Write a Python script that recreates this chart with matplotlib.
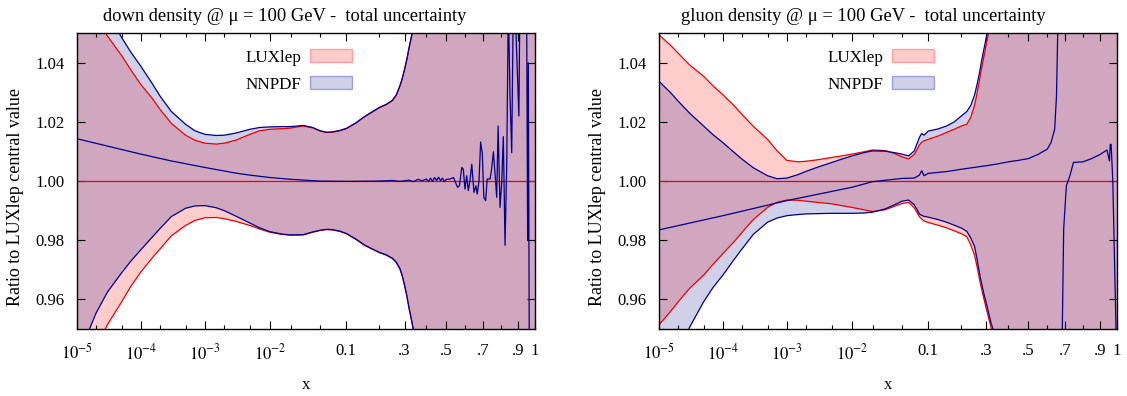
import numpy as np
import matplotlib.pyplot as plt
from matplotlib.patches import Patch
from matplotlib.ticker import FormatStrFormatter

plt.rcParams['font.family'] = ['Liberation Serif', 'DejaVu Serif']
plt.rcParams['mathtext.fontset'] = 'stix'

# ---------------- down density ----------------
down_x = [1e-5, 1.5e-5, 2e-5, 3e-5, 5e-5, 7e-5, 1e-4, 1.5e-4, 2e-4, 3e-4, 5e-4,
          7e-4, 1e-3, 1.5e-3, 2e-3, 3e-3, 5e-3, 7e-3, 1e-2, 1.5e-2, 2e-2, 3e-2,
          4e-2, 5e-2, 6e-2, 7e-2, 8.5e-2, 0.1, 0.125, 0.15, 0.175, 0.2, 0.225,
          0.25, 0.265, 0.28, 0.29, 0.3, 0.31, 0.32, 0.33, 0.34, 0.36, 0.4, 0.6,
          0.8, 1.0]
down_lux_hi = [1.070, 1.062, 1.056, 1.049, 1.0424, 1.0375, 1.0326, 1.0280, 1.0242,
               1.0195, 1.0155, 1.0138, 1.0128, 1.0125, 1.0128, 1.0138, 1.0158,
               1.0170, 1.0175, 1.0177, 1.0179, 1.0186, 1.0180, 1.0169, 1.0164,
               1.0165, 1.0170, 1.0177, 1.0196, 1.0217, 1.0233, 1.0248, 1.0258,
               1.0272, 1.0290, 1.0320, 1.0345, 1.0376, 1.0410, 1.0450, 1.0485,
               1.0520, 1.060, 1.080, 1.2, 1.2, 1.2]
down_lux_lo = [0.930, 0.938, 0.944, 0.9515, 0.9592, 0.9645, 0.9693, 0.9740, 0.9771,
               0.9815, 0.9850, 0.9867, 0.9876, 0.9877, 0.9873, 0.9864, 0.9850,
               0.9838, 0.9827, 0.9820, 0.9817, 0.9818, 0.9827, 0.9833, 0.9836,
               0.9835, 0.9830, 0.9822, 0.9803, 0.9783, 0.9770, 0.9758, 0.9750,
               0.9738, 0.9725, 0.9704, 0.9680, 0.9648, 0.9612, 0.9570, 0.9533,
               0.9495, 0.940, 0.920, 0.8, 0.8, 0.8]
down_nn_hi = [1.080, 1.072, 1.065, 1.057, 1.0485, 1.0435, 1.0388, 1.0330, 1.0287,
              1.0235, 1.0192, 1.0170, 1.0158, 1.0154, 1.0155, 1.0162, 1.0175,
              1.0181, 1.0183, 1.0184, 1.0184, 1.0188, 1.0181, 1.0170, 1.0165,
              1.0166, 1.0171, 1.0178, 1.0197, 1.0218, 1.0234, 1.0249, 1.0259,
              1.0273, 1.0291, 1.0321, 1.0346, 1.0377, 1.0411, 1.0451, 1.0486,
              1.0521, 1.060, 1.080, 1.2, 1.2, 1.2]
down_nn_lo = [0.940, 0.949, 0.9555, 0.9625, 0.9690, 0.9730, 0.9768, 0.9810, 0.9840,
              0.9880, 0.9908, 0.9916, 0.9917, 0.9910, 0.9900, 0.9882, 0.9858,
              0.9842, 0.9829, 0.9821, 0.9818, 0.9819, 0.9828, 0.9834, 0.9837,
              0.9836, 0.9831, 0.9823, 0.9804, 0.9784, 0.9771, 0.9759, 0.9751,
              0.9739, 0.9726, 0.9705, 0.9681, 0.9649, 0.9613, 0.9571, 0.9534,
              0.9496, 0.940, 0.920, 0.8, 0.8, 0.8]

down_c_x = [1e-5, 1e-4, 3e-4, 1e-3, 3e-3, 5e-3, 1e-2, 2e-2, 5e-2, 0.1, 0.2, 0.25,
            0.28, 0.3, 0.32, 0.34, 0.36, 0.38, 0.4, 0.41, 0.42, 0.43, 0.44, 0.45,
            0.46, 0.47, 0.48, 0.49, 0.5, 0.519, 0.537, 0.558, 0.568, 0.581, 0.589,
            0.598, 0.607, 0.616, 0.625, 0.635, 0.647, 0.658, 0.665, 0.675, 0.684,
            0.693, 0.702, 0.712, 0.721, 0.737, 0.746, 0.756, 0.767, 0.775, 0.783,
            0.794, 0.804, 0.813, 0.823, 0.833, 0.842, 0.852, 0.862, 0.871, 0.881,
            0.904, 0.91, 0.94, 0.95, 0.956, 0.96, 0.966, 0.98, 0.99]
down_nn_c = [1.0143, 1.0091, 1.0068, 1.0046, 1.0027, 1.0020, 1.0012, 1.0006, 1.0000,
             0.9999, 1.0000, 1.0002, 0.9999, 1.0001, 1.0003, 0.9998, 1.0006, 1.0001,
             1.0007, 0.9998, 1.0010, 0.9999, 1.0012, 1.0002, 1.0013, 1.0001, 1.0010,
             0.9998, 1.0006, 1.0007, 1.0012, 0.9979, 0.9984, 1.0046, 1.0040, 0.9973,
             1.0018, 0.9968, 1.0001, 1.0057, 0.9962, 0.9984, 0.9956, 1.0001, 1.0132,
             1.0096, 0.9945, 0.9934, 1.0007, 1.0007, 1.0040, 1.0099, 1.0012, 0.9945,
             1.0186, 0.9911, 0.9996, 1.0150, 0.9783, 1.0063, 1.0600, 1.0287, 1.0096,
             1.0600, 1.0600, 1.0220, 1.0600, 1.0600, 1.0600, 0.9799, 1.0399, 0.9400,
             0.9400, 0.9400]

# ---------------- gluon density ----------------
glu_x = [1e-5, 1.5e-5, 2e-5, 3e-5, 5e-5, 7e-5, 1e-4, 1.5e-4, 2e-4, 3e-4, 5e-4,
         7e-4, 1e-3, 1.5e-3, 2e-3, 3e-3, 5e-3, 7e-3, 1e-2, 1.5e-2, 2e-2, 3e-2,
         4e-2, 5e-2, 6e-2, 7e-2, 7.5e-2, 8e-2, 8.5e-2, 9e-2, 0.1, 0.125, 0.15,
         0.175, 0.2, 0.22, 0.235, 0.25, 0.26, 0.27, 0.28, 0.29, 0.3, 0.31, 0.32,
         0.35, 0.4, 0.6, 0.8, 1.0]
glu_lux_hi = [1.0494, 1.0460, 1.0432, 1.0393, 1.0354, 1.0322, 1.0292, 1.0255, 1.0225,
              1.0185, 1.0141, 1.0103, 1.0070, 1.0065, 1.0067, 1.0072, 1.0080, 1.0085,
              1.0091, 1.0099, 1.0105, 1.0103, 1.0093, 1.0082, 1.0075, 1.0090, 1.0105,
              1.0122, 1.0131, 1.0136, 1.0141, 1.0152, 1.0164, 1.0175, 1.0186, 1.0192,
              1.0215, 1.0255, 1.0295, 1.0340, 1.0385, 1.0425, 1.0466, 1.0505, 1.055,
              1.065, 1.080, 1.2, 1.2, 1.2]
glu_lux_lo = [0.9514, 0.9558, 0.9592, 0.9637, 0.9682, 0.9718, 0.9755, 0.9795, 0.9827,
              0.9870, 0.9911, 0.9928, 0.9936, 0.9935, 0.9932, 0.9928, 0.9923, 0.9917,
              0.9911, 0.9903, 0.9897, 0.9903, 0.9915, 0.9924, 0.9928, 0.9910, 0.9895,
              0.9880, 0.9872, 0.9865, 0.9860, 0.9851, 0.9842, 0.9832, 0.9822, 0.9812,
              0.9785, 0.9750, 0.9712, 0.9670, 0.9632, 0.9598, 0.9566, 0.9535, 0.9505,
              0.940, 0.920, 0.8, 0.8, 0.8]
glu_nn_hi = [1.0337, 1.0300, 1.0270, 1.0230, 1.0186, 1.0157, 1.0130, 1.0097, 1.0074,
             1.0045, 1.0018, 1.0008, 1.0010, 1.0022, 1.0033, 1.0047, 1.0063, 1.0074,
             1.0085, 1.0096, 1.0102, 1.0101, 1.0096, 1.0091, 1.0085, 1.0102, 1.0125,
             1.0147, 1.0161, 1.0155, 1.0169, 1.0176, 1.0186, 1.0200, 1.0220, 1.0235,
             1.0255, 1.0290, 1.0325, 1.0365, 1.0410, 1.0450, 1.0489, 1.0530, 1.058,
             1.070, 1.090, 1.2, 1.2, 1.2]
glu_nn_lo = [0.925, 0.934, 0.941, 0.9505, 0.9592, 0.9640, 0.9682, 0.9735, 0.9771,
             0.9820, 0.9861, 0.9875, 0.9883, 0.9887, 0.9889, 0.9890, 0.9891, 0.9891,
             0.9891, 0.9892, 0.9895, 0.9906, 0.9920, 0.9932, 0.9936, 0.9920, 0.9905,
             0.9889, 0.9884, 0.9881, 0.9878, 0.9870, 0.9861, 0.9851, 0.9841, 0.9830,
             0.9808, 0.9780, 0.9738, 0.9690, 0.9650, 0.9615, 0.9585, 0.9552, 0.9520,
             0.945, 0.930, 0.8, 0.8, 0.8]

glu_c_x = [1e-5, 1e-4, 1e-3, 1e-2, 2e-2, 5e-2, 7e-2, 8e-2, 8.5e-2, 9e-2, 0.1, 0.15,
           0.2, 0.3, 0.35, 0.4, 0.45, 0.5, 0.55, 0.6, 0.62, 0.64, 0.65, 0.66, 0.67,
           0.675, 0.68, 0.69, 0.705, 0.725, 0.745, 0.8, 0.85, 0.9, 0.94, 0.955,
           0.96, 0.965, 0.975, 0.998]
glu_nn_c = [0.9835, 0.9883, 0.9934, 0.9979, 0.9998, 1.0009, 1.0010, 1.0020, 1.0035,
            1.0018, 1.0026, 1.0032, 1.0040, 1.0052, 1.0058, 1.0065, 1.0070, 1.0076,
            1.0090, 1.0108, 1.0130, 1.0175, 1.0287, 1.0600, np.nan, 0.9000, 0.9400,
            0.9839, 0.9984, 1.0018, 1.0063, 1.0065, 1.0076, 1.0090, 1.0105, 1.0068,
            1.0124, 1.0124, 1.0000, 0.9400]

lux_ref_x = [1e-5, 1.0]
lux_ref = [1.0, 1.0]

x_major = [1e-5, 1e-4, 1e-3, 1e-2, 0.1, 0.3, 0.5, 0.7, 0.9, 1.0]
x_major_labels = [r'$10^{-5}$', r'$10^{-4}$', r'$10^{-3}$', r'$10^{-2}$',
                  '0.1', '.3', '.5', '.7', '.9', '1']
x_minor = [2e-5, 5e-5, 2e-4, 5e-4, 2e-3, 5e-3, 2e-2, 5e-2, 0.2, 0.4, 0.6, 0.8]
y_major = [0.96, 0.98, 1.00, 1.02, 1.04]

panels = [
    ('down density @ \u03bc = 100 GeV -  total uncertainty', down_x, down_lux_hi,
     down_lux_lo, down_nn_hi, down_nn_lo, down_c_x, down_nn_c),
    ('gluon density @ \u03bc = 100 GeV -  total uncertainty', glu_x, glu_lux_hi,
     glu_lux_lo, glu_nn_hi, glu_nn_lo, glu_c_x, glu_nn_c),
]

red = '#ee0000'
navy = '#00008b'
lux_fill = (1.0, 0.0, 0.0, 0.2)
nn_fill = (0.08, 0.08, 0.55, 0.2)


# x axis: ln(x) + 5x, log at small x, stretched at large x
def fwd(x):
    x = np.asarray(x, dtype=float)
    with np.errstate(divide='ignore', invalid='ignore'):
        return np.log(x) + 5.0 * x


_xs = np.logspace(-9, 0.3, 20000)
_us = fwd(_xs)


def inv(u):
    return np.interp(u, _us, _xs)


fig = plt.figure(figsize=(11.27, 3.96), dpi=100)
lefts = [0.0683, 0.5847]
title_x = [0.454, 0.447]
for left, tx, (title, x, lhi, llo, nhi, nlo, cx, cy) in zip(lefts, title_x, panels):
    ax = fig.add_axes([left, 0.169, 0.4064, 0.7475])
    ax.set_xscale('function', functions=(fwd, inv))

    ax.fill_between(x, llo, lhi, facecolor=lux_fill, edgecolor='none', lw=0)
    ax.fill_between(x, nlo, nhi, facecolor=nn_fill, edgecolor='none', lw=0)
    ax.plot(x, lhi, color=red, lw=0.9)
    ax.plot(x, llo, color=red, lw=0.9)
    ax.plot(x, nhi, color=navy, lw=0.9)
    ax.plot(x, nlo, color=navy, lw=0.9)
    ax.plot(lux_ref_x, lux_ref, color=red, lw=0.9)
    ax.plot(cx, cy, color=navy, lw=0.9)

    ax.set_xlim(1e-5, 1.0)
    ax.set_ylim(0.95, 1.05)
    ax.set_xticks(x_major, x_major_labels)
    ax.set_xticks(x_minor, minor=True)
    ax.set_yticks(y_major)
    ax.yaxis.set_major_formatter(FormatStrFormatter('%.2f'))
    ax.tick_params(which='both', direction='in', top=True, right=True,
                   labelsize=12, color='black')
    ax.tick_params(which='major', length=6, width=0.8)
    ax.tick_params(which='minor', length=3, width=0.8)
    ax.tick_params(axis='x', pad=10)
    ax.tick_params(axis='y', pad=9)
    for s in ax.spines.values():
        s.set_linewidth(1.0)

    ax.set_title(title, fontsize=13.3, pad=9, x=tx)
    ax.set_xlabel('x', fontsize=12, labelpad=10)
    ax.set_ylabel('Ratio to LUXlep central value', fontsize=13)
    ax.yaxis.set_label_coords(-0.116, 0.446)

    handles = [Patch(facecolor=lux_fill, edgecolor=(1, 0, 0, 0.3)),
               Patch(facecolor=nn_fill, edgecolor=(0.1, 0.1, 0.6, 0.35))]
    ax.legend(handles, ['LUXlep', 'NNPDF'], loc='upper right',
              bbox_to_anchor=(0.601, 0.945), frameon=False, markerfirst=False,
              fontsize=12.3, handlelength=2.5, handleheight=0.8,
              handletextpad=0.5, labelspacing=0.6, borderpad=0,
              borderaxespad=0)

fig.savefig('out.png', dpi=100)
